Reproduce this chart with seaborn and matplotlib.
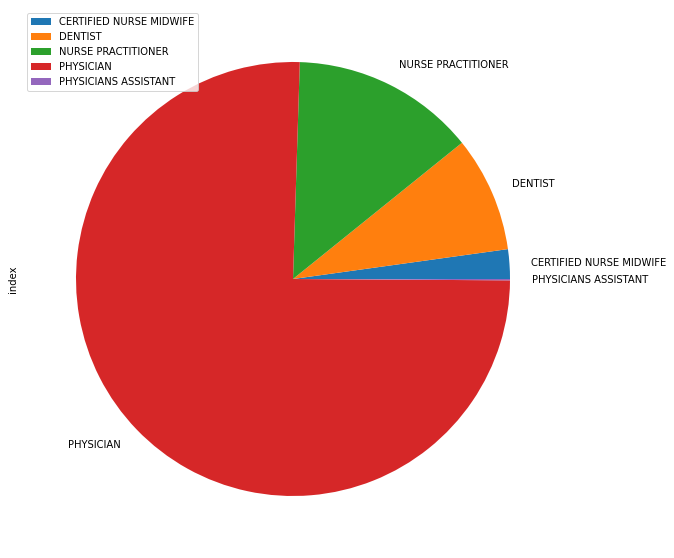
import matplotlib
matplotlib.use("Agg")
import matplotlib.pyplot as plt
import seaborn as sns

# provider type counts
provider_types = ["CERTIFIED NURSE MIDWIFE", "DENTIST", "NURSE PRACTITIONER",
                  "PHYSICIAN", "PHYSICIANS ASSISTANT"]
counts = [22, 86, 137, 754, 1]

colors = sns.color_palette("tab10", len(provider_types))

fig = plt.figure(figsize=(674 / 72, 558 / 72), dpi=72)
ax = fig.add_axes([21.75 / 674, 7.75 / 558, 542.5 / 674, 542.5 / 558])

wedges, texts = ax.pie(counts, labels=provider_types, colors=colors, labeldistance=1.1)
ax.set_ylabel("index")
ax.legend(wedges, provider_types, loc="upper left")

fig.savefig("out.png", dpi=72)
